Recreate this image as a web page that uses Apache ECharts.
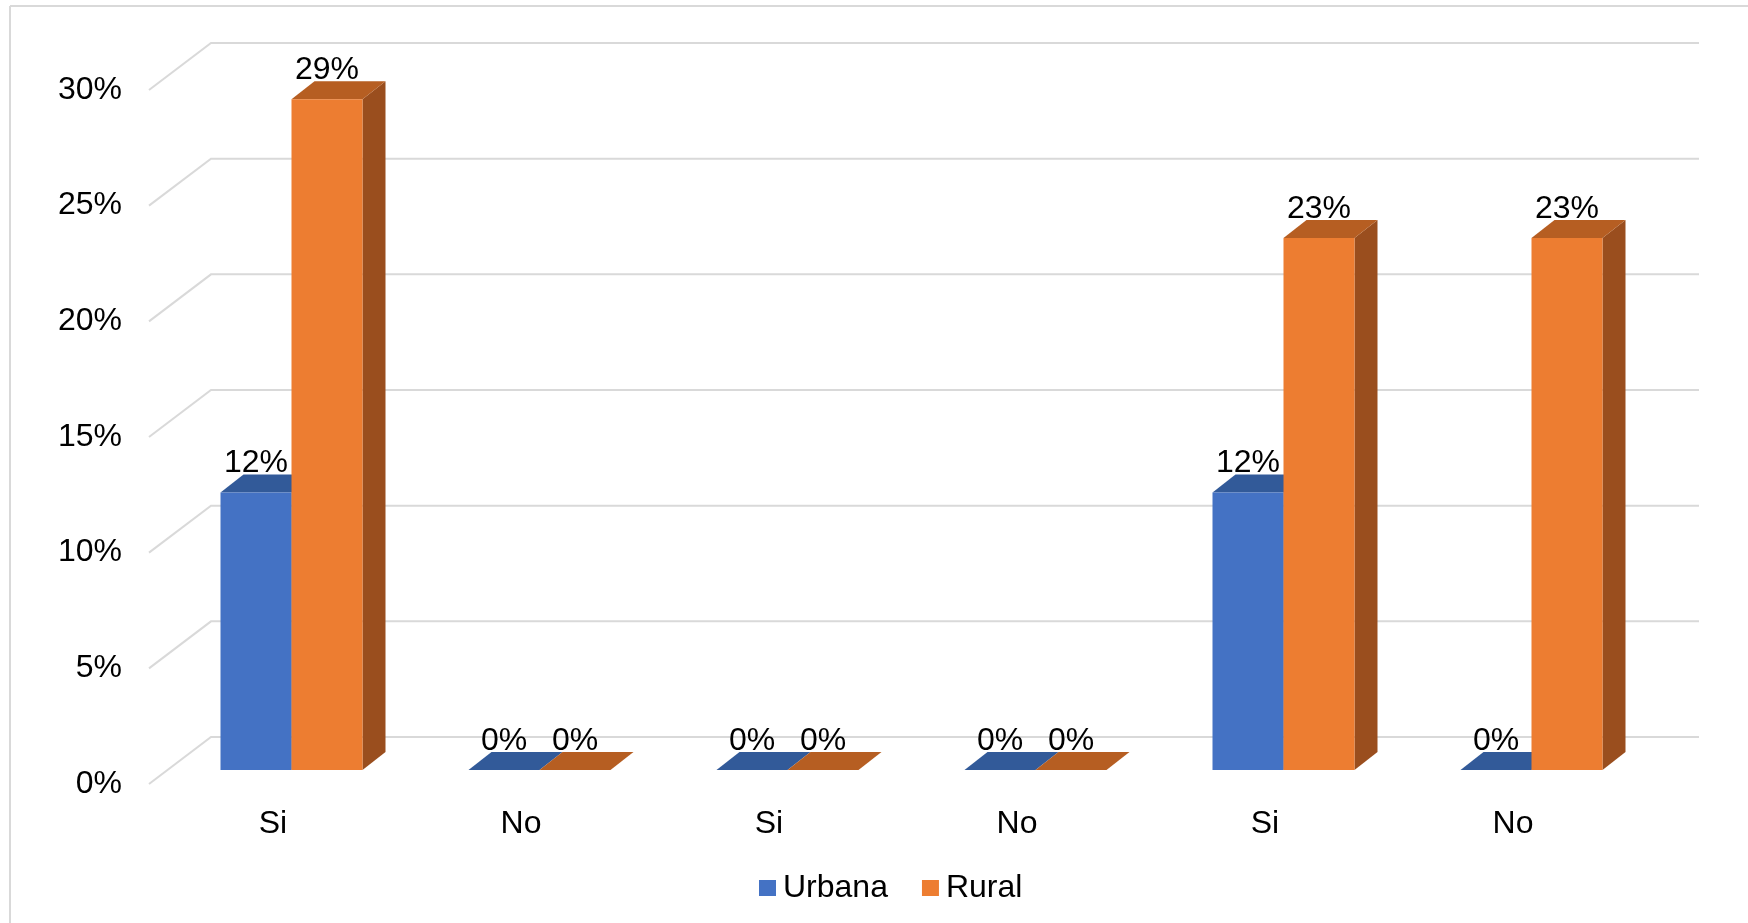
<!DOCTYPE html>
<html>
<head>
<meta charset="utf-8">
<script src="https://cdn.jsdelivr.net/npm/echarts@6/dist/echarts.min.js"></script>
<style>
  html, body { margin: 0; padding: 0; background: #ffffff; }
  #chart { width: 1748px; height: 923px; }
</style>
</head>
<body>
<div id="chart"></div>
<script>
// Chart data
const categories = ['Si', 'No', 'Si', 'No', 'Si', 'No'];
const urbana = [0.12, 0, 0, 0, 0.12, 0];
const rural = [0.29, 0, 0, 0, 0.23, 0.23];
const yTicks = [0, 0.05, 0.10, 0.15, 0.20, 0.25, 0.30];
const seriesNames = ['Urbana', 'Rural'];

// Look & geometry of the pseudo-3D columns
const FONT_FAMILY = "'Liberation Sans', Arial, sans-serif";
const FONT_SIZE = 32;
const WALL = [62, -47];          // depth of the back wall relative to the front plane
const BAR_FRONT = [18.5, -14];   // where the column fronts sit inside the depth
const BAR_DEPTH = [23, -18];     // thickness of each column
const BAR_RATIO = 71 / 248;      // column width as a share of a category band
const GRID_COLOR = '#D9D9D9';

const faces = [
  { front: '#4472C4', top: '#325A99', side: '#2B4C84' },
  { front: '#ED7D31', top: '#B65E22', side: '#9A4E1E' }
];

const pct = v => Math.round(v * 100) + '%';

function wallRenderer(params, api) {
  const cs = params.coordSys;
  const y = api.coord([0, api.value(1)])[1];
  const xl = cs.x;
  const xr = cs.x + cs.width;
  return {
    type: 'polyline',
    shape: { points: [[xl, y], [xl + WALL[0], y + WALL[1]], [xr + WALL[0], y + WALL[1]]] },
    style: { stroke: GRID_COLOR, lineWidth: 2, fill: null }
  };
}

function barRenderer(sIdx) {
  return function (params, api) {
    const i = api.value(0);
    const v = api.value(1);
    const base = api.coord([i, 0]);
    const topPt = api.coord([i, v]);
    const band = api.size([1, 0])[0];
    const w = band * BAR_RATIO;
    const x0 = base[0] + BAR_FRONT[0] - w + sIdx * w;
    const yb = base[1] + BAR_FRONT[1];
    const yt = topPt[1] + BAR_FRONT[1];
    const dx = BAR_DEPTH[0], dy = BAR_DEPTH[1];
    const c = faces[sIdx];
    return {
      type: 'group',
      children: [
        {
          type: 'polygon',
          shape: { points: [[x0 + w, yt], [x0 + w + dx, yt + dy], [x0 + w + dx, yb + dy], [x0 + w, yb]] },
          style: { fill: c.side }
        },
        {
          type: 'polygon',
          shape: { points: [[x0, yt], [x0 + w, yt], [x0 + w + dx, yt + dy], [x0 + dx, yt + dy]] },
          style: { fill: c.top }
        },
        {
          type: 'rect',
          shape: { x: x0, y: yt, width: w, height: yb - yt },
          style: { fill: c.front }
        },
        {
          type: 'text',
          x: x0 + w / 2,
          y: yt - 29,
          z2: 100,
          style: {
            text: pct(v),
            fill: '#000000',
            fontFamily: FONT_FAMILY,
            fontSize: FONT_SIZE,
            align: 'center',
            verticalAlign: 'middle'
          }
        }
      ]
    };
  };
}

const chart = echarts.init(document.getElementById('chart'), null, { renderer: 'canvas' });

chart.setOption({
  animation: false,
  backgroundColor: '#ffffff',
  textStyle: { fontFamily: FONT_FAMILY },
  graphic: [
    { type: 'line', shape: { x1: 10, y1: 6, x2: 1748, y2: 6 }, style: { stroke: GRID_COLOR, lineWidth: 2 } },
    { type: 'line', shape: { x1: 10, y1: 6, x2: 10, y2: 923 }, style: { stroke: GRID_COLOR, lineWidth: 2 } }
  ],
  grid: { left: 149, right: 111, top: 90, bottom: 139 },
  legend: {
    data: seriesNames,
    left: 754,
    top: 867,
    icon: 'rect',
    itemWidth: 17,
    itemHeight: 16,
    itemGap: 34,
    textStyle: { fontSize: FONT_SIZE, color: '#000000', fontFamily: FONT_FAMILY, padding: [0, 0, 0, 2] }
  },
  xAxis: {
    type: 'category',
    data: categories,
    axisLine: { show: false },
    axisTick: { show: false },
    splitLine: { show: false },
    axisLabel: { interval: 0, fontSize: FONT_SIZE, color: '#000000', margin: 24, fontFamily: FONT_FAMILY }
  },
  yAxis: {
    type: 'value',
    min: 0,
    max: 0.3,
    interval: 0.05,
    axisLine: { show: false },
    axisTick: { show: false },
    splitLine: { show: false },
    axisLabel: {
      fontSize: FONT_SIZE, color: '#000000', margin: 27, fontFamily: FONT_FAMILY,
      padding: [9, 0, 0, 0], formatter: pct
    }
  },
  series: [
    {
      type: 'custom',
      silent: true,
      z: 1,
      renderItem: wallRenderer,
      encode: { x: 0, y: 1 },
      data: yTicks.map(t => [0, t])
    },
    {
      type: 'custom',
      name: seriesNames[0],
      z: 2,
      itemStyle: { color: faces[0].front },
      renderItem: barRenderer(0),
      encode: { x: 0, y: 1 },
      data: urbana.map((v, i) => [i, v])
    },
    {
      type: 'custom',
      name: seriesNames[1],
      z: 2,
      itemStyle: { color: faces[1].front },
      renderItem: barRenderer(1),
      encode: { x: 0, y: 1 },
      data: rural.map((v, i) => [i, v])
    }
  ]
});
</script>
</body>
</html>
